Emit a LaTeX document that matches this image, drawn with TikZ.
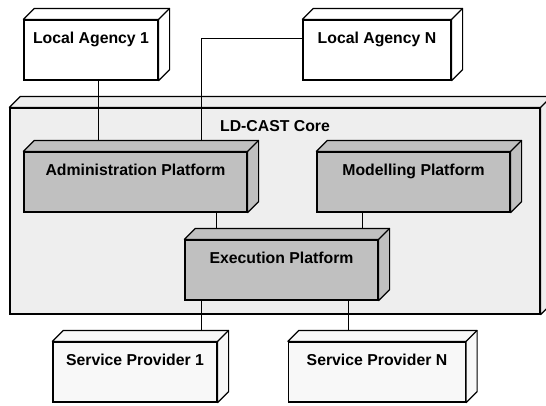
\documentclass[tikz,border=0pt]{standalone}
\usepackage{fontspec}
\setmainfont{Liberation Sans}
\usetikzlibrary{calc}

\definecolor{coregray}{HTML}{EEEEEE}
\definecolor{platgray}{HTML}{C0C0C0}
\definecolor{provwhite}{HTML}{F8F8F8}

\begin{document}
\begin{tikzpicture}[x=1pt, y=-1pt,
    every node/.style={draw, line width=1.2pt, rectangle, inner sep=0pt,
      text height=23pt, text depth=37pt, font=\fontsize{15.8}{18}\selectfont\bfseries},
    face/.style={draw, line width=1.2pt, line join=round},
    link/.style={draw, line width=0.9pt}]

  \useasboundingbox[fill=white] (0,0) rectangle (546,405);

  % Core
  \node[fill=coregray, minimum width=530pt, text depth=183pt] (core) at (275,211) {LD-CAST Core};

  % Local agencies
  \node[fill=white, minimum width=134pt] (la1) at (91,50) {Local Agency 1};
  \node[fill=white, minimum width=148pt] (lan) at (377,50) {Local Agency N};

  % Platforms
  \node[fill=platgray, minimum width=223pt] (adm) at (135.5,182) {Administration Platform};
  \node[fill=platgray, minimum width=193pt] (mod) at (413.5,182) {Modelling Platform};
  \node[fill=platgray, minimum width=193pt] (exe) at (281.5,270) {Execution Platform};

  % Service providers
  \node[fill=provwhite, minimum width=164pt] (sp1) at (135,372) {Service Provider 1};
  \node[fill=provwhite, minimum width=177pt] (spn) at (377,372) {Service Provider N};

  % Depth faces of the boxes
  \foreach \n/\c in {core/coregray, la1/white, lan/white, adm/platgray,
                     mod/platgray, exe/platgray, sp1/provwhite, spn/provwhite} {
    \draw[face, fill=\c] (\n.north west) -- ([shift={(11,-11)}]\n.north west)
      -- ([shift={(11,-11)}]\n.north east) -- ([shift={(11,-11)}]\n.south east)
      -- (\n.south east) -- (\n.north east) -- cycle;
    \draw[face] (\n.north east) -- ([shift={(11,-11)}]\n.north east);
  }

  % Links
  \draw[link] ([xshift=7pt]la1.south) -- ([xshift=7pt, yshift=11pt]la1.south |- adm.north);
  \draw[link] ([yshift=12pt]lan.west) -| ([xshift=65.5pt, yshift=11pt]adm.north);
  \draw[link] ([xshift=80.5pt]adm.south) -- ([xshift=80.5pt, yshift=11pt]adm.south |- exe.north);
  \draw[link] ([xshift=-51.5pt]mod.south) -- ([xshift=-51.5pt, yshift=11pt]mod.south |- exe.north);
  \draw[link] ([xshift=-80.5pt]exe.south) -- ([xshift=-80.5pt, yshift=11pt]exe.south |- sp1.north);
  \draw[link] ([xshift=66.5pt]exe.south) -- ([xshift=66.5pt, yshift=11pt]exe.south |- spn.north);

\end{tikzpicture}
\end{document}
